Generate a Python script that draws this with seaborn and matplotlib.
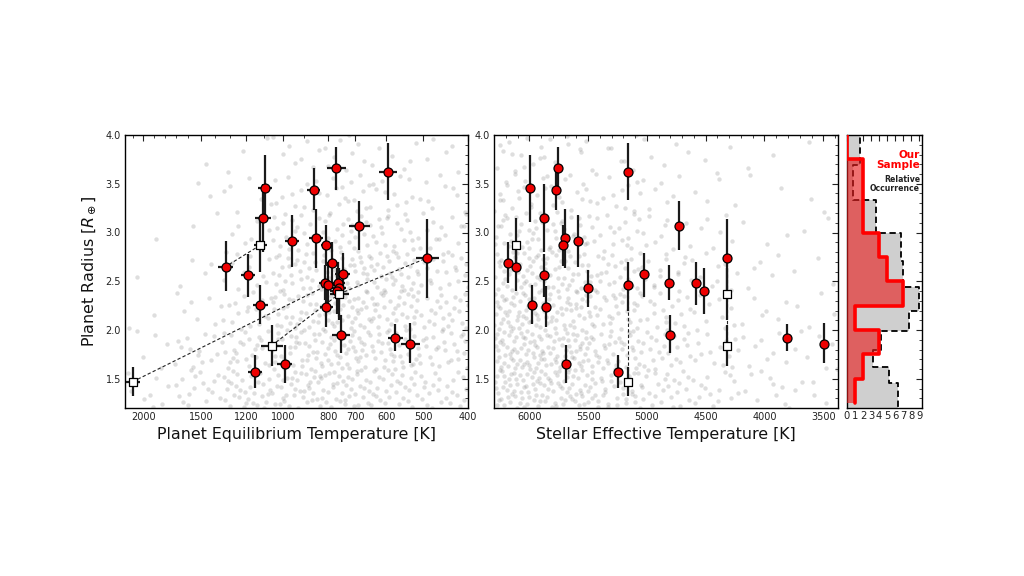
import numpy as np
import pandas as pd
import matplotlib
matplotlib.use("Agg")
import matplotlib.pyplot as plt
from matplotlib.ticker import (MultipleLocator, FixedLocator, FixedFormatter,
                               NullFormatter, FormatStrFormatter)
import seaborn as sns

# ---------------- data ----------------
# sample planets (red circles)
red_teq = [1330, 1189, 1122, 1152, 993, 1093, 1107, 957, 860, 850, 808, 784, 811,
           802, 807, 763, 758, 766, 745, 752, 770, 596, 686, 489, 574, 533]
red_teq_err = [50, 41, 42, 40, 36, 38, 45, 33, 28, 31, 22, 27, 27,
               27, 27, 27, 27, 27, 27, 33, 36, 26, 36, 28, 21, 25]
red_teff = [6111, 5872, 5977, 5244, 5688, 5994, 5878, 5582, 5776, 5696, 5713, 6179, 4810,
            5159, 5858, 4585, 5500, 4517, 5026, 4804, 5759, 5159, 4727, 4321, 3812, 3497]
red_rad = [2.65, 2.56, 2.26, 1.57, 1.65, 3.46, 3.15, 2.91, 3.44, 2.94, 2.87, 2.69, 2.48,
           2.46, 2.24, 2.48, 2.43, 2.40, 2.57, 1.95, 3.66, 3.62, 3.07, 2.74, 1.92, 1.86]
red_rad_lo = [0.25, 0.22, 0.20, 0.16, 0.19, 0.35, 0.35, 0.26, 0.21, 0.30, 0.21, 0.21, 0.17,
              0.26, 0.21, 0.22, 0.19, 0.24, 0.23, 0.19, 0.22, 0.29, 0.25, 0.41, 0.14, 0.20]
red_rad_hi = [0.26, 0.22, 0.20, 0.17, 0.20, 0.34, 0.35, 0.27, 0.22, 0.30, 0.21, 0.21, 0.19,
              0.24, 0.21, 0.22, 0.19, 0.24, 0.22, 0.20, 0.22, 0.30, 0.25, 0.40, 0.14, 0.21]

# other planets in the same systems (white squares)
sq_teq = [2108, 1120, 1059, 758]
sq_teq_err = [73, 38, 57, 36]
sq_teff = [5159, 6111, 4321, 4321]
sq_rad = [1.47, 2.87, 1.84, 2.37]
sq_rad_err = [0.15, 0.28, 0.21, 0.27]

# dashed links: (square index, 'r' red index or 's' square index)
links = [(0, 'r', 13), (1, 'r', 0), (2, 's', 3), (3, 'r', 23)]

# red histogram bins
red_bins = [1.25, 1.5, 1.75, 2.0, 2.25, 2.5, 2.75, 3.0, 3.25, 3.5, 3.75, 4.0]

# relative occurrence (grey dashed histogram)
occ_edges = [1.10, 1.46, 1.62, 1.79, 1.99, 2.20, 2.44, 2.71, 3.00, 3.33, 3.69, 4.09]
occ_vals = [6.3, 5.2, 3.2, 4.25, 7.75, 9.0, 7.0, 6.75, 3.6, 0.75, 1.65]

# background sample density (counts per cell), rows = radius bins bottom->top
bg_r_edges = [1.2, 1.6, 2.0, 2.4, 2.8, 3.2, 3.6, 4.0]
bg_teq_edges = [2188, 1717, 1348, 1058, 830, 652, 512, 400]
bg_teq_counts = [
    [9, 17, 32, 37, 36, 30, 23],
    [5, 14, 26, 35, 38, 32, 25],
    [2, 7, 17, 32, 37, 34, 25],
    [1, 4, 12, 27, 34, 31, 22],
    [1, 2, 8, 19, 23, 20, 15],
    [0, 2, 6, 12, 15, 12, 9],
    [0, 1, 3, 8, 9, 7, 5],
]
bg_teff_edges = [6300, 5882, 5464, 5046, 4628, 4210, 3793, 3375]
bg_teff_counts = [
    [52, 47, 35, 24, 15, 9, 7],
    [54, 47, 34, 23, 13, 8, 6],
    [48, 40, 28, 18, 10, 6, 4],
    [40, 34, 24, 15, 9, 5, 3],
    [28, 23, 17, 11, 6, 3, 2],
    [18, 15, 11, 7, 4, 2, 2],
    [12, 10, 7, 5, 3, 2, 1],
]


def halton(i, b):
    f, r = 1.0, 0.0
    while i > 0:
        f /= b
        r += f * (i % b)
        i //= b
    return r


def cell_points(xedges, yedges, counts, logx=False, start=1):
    xs, ys = [], []
    k = start
    for ri, row in enumerate(counts):
        for ci, c in enumerate(row):
            x0, x1 = xedges[ci], xedges[ci + 1]
            if logx:
                x0, x1 = np.log10(x0), np.log10(x1)
            y0, y1 = yedges[ri], yedges[ri + 1]
            for _ in range(c):
                u, v = halton(k, 2), halton(k, 3)
                k += 1
                xv = x0 + u * (x1 - x0)
                xs.append(10 ** xv if logx else xv)
                ys.append(y0 + v * (y1 - y0))
    return pd.DataFrame({"x": xs, "y": ys})


bg_left = cell_points(bg_teq_edges, bg_r_edges, bg_teq_counts, logx=True, start=1)
bg_mid = cell_points(bg_teff_edges, bg_r_edges, bg_teff_counts, start=5000)

# ---------------- figure ----------------
sns.set_style("white")
plt.rcParams["font.family"] = ["DejaVu Sans"]
fig = plt.figure(figsize=(10.24, 5.76), dpi=100)
axL = fig.add_axes([125 / 1024, 168 / 576, 343 / 1024, 273 / 576])
axM = fig.add_axes([494 / 1024, 168 / 576, 344 / 1024, 273 / 576])
axH = fig.add_axes([847 / 1024, 168 / 576, 75 / 1024, 273 / 576])

bg_kw = dict(color="#808080", alpha=0.26, s=10, linewidth=0, legend=False, zorder=1)
sns.scatterplot(data=bg_left, x="x", y="y", ax=axL, **bg_kw)
sns.scatterplot(data=bg_mid, x="x", y="y", ax=axM, **bg_kw)

red_df = pd.DataFrame({"teq": red_teq, "teff": red_teff, "r": red_rad})
sq_df = pd.DataFrame({"teq": sq_teq, "teff": sq_teff, "r": sq_rad})


def endpoint(kind, j, key):
    if kind == 'r':
        return (red_teq[j] if key == 'teq' else red_teff[j]), red_rad[j]
    return (sq_teq[j] if key == 'teq' else sq_teff[j]), sq_rad[j]


for ax, key in [(axL, 'teq'), (axM, 'teff')]:
    for si, kind, j in links:
        x0 = sq_teq[si] if key == 'teq' else sq_teff[si]
        y0 = sq_rad[si]
        x1, y1 = endpoint(kind, j, key)
        ax.plot([x0, x1], [y0, y1], ls=(0, (3, 2)), color="#222222", lw=0.8, zorder=2)

eb_kw = dict(fmt="none", ecolor="#1a1a1a", elinewidth=1.6, capsize=0, zorder=3)
axL.errorbar(red_teq, red_rad, yerr=[red_rad_lo, red_rad_hi], xerr=red_teq_err, **eb_kw)
axL.errorbar(sq_teq, sq_rad, yerr=sq_rad_err, xerr=sq_teq_err, **eb_kw)
axM.errorbar(red_teff, red_rad, yerr=[red_rad_lo, red_rad_hi], **eb_kw)
axM.errorbar(sq_teff, sq_rad, yerr=sq_rad_err, **eb_kw)

mk_red = dict(color="#ee0000", edgecolor="black", linewidth=0.9, s=42, marker="o",
              legend=False, zorder=5)
mk_sq = dict(color="white", edgecolor="black", linewidth=0.9, s=40, marker="s",
             legend=False, zorder=5)
sns.scatterplot(data=red_df, x="teq", y="r", ax=axL, **mk_red)
sns.scatterplot(data=sq_df, x="teq", y="r", ax=axL, **mk_sq)
sns.scatterplot(data=red_df, x="teff", y="r", ax=axM, **mk_red)
sns.scatterplot(data=sq_df, x="teff", y="r", ax=axM, **mk_sq)

# ---- histogram panel ----
occ_centers = [0.5 * (occ_edges[i] + occ_edges[i + 1]) for i in range(len(occ_vals))]
sns.histplot(y=occ_centers, weights=occ_vals, bins=occ_edges, element="step", fill=True,
             ax=axH, color="#cfcfcf", alpha=1.0, edgecolor="black", linewidth=1.3,
             linestyle=(0, (3.5, 2)), zorder=2)
all_r = red_rad + sq_rad
sns.histplot(y=all_r, bins=red_bins, element="step", fill=True, ax=axH,
             color="#e81c1c", alpha=0.62, linewidth=0, zorder=3)
sns.histplot(y=all_r, bins=red_bins, element="step", fill=False, ax=axH,
             color="#ff0000", linewidth=2.6, zorder=4)

axH.text(0.975, 0.908, "Our\nSample", transform=axH.transAxes, ha="right", va="center",
         color="#ff0000", fontweight="bold", fontsize=7.5, linespacing=1.0, zorder=6)
axH.text(0.975, 0.82, "Relative\nOccurrence", transform=axH.transAxes, ha="right",
         va="center", color="#222222", fontweight="bold", fontsize=5.6, linespacing=1.0,
         zorder=6)

# ---------------- axes formatting ----------------
for ax in (axL, axM, axH):
    ax.set_ylim(1.2, 4.0)
    ax.yaxis.set_major_locator(MultipleLocator(0.5))
    ax.yaxis.set_minor_locator(MultipleLocator(0.1))
    ax.tick_params(which="both", direction="in", top=True, right=True, color="#222222",
                   labelsize=7, labelcolor="#222222", pad=3)
    ax.tick_params(which="major", length=4, width=0.8)
    ax.tick_params(which="minor", length=2, width=0.6)
    for sp in ax.spines.values():
        sp.set_color("black")
        sp.set_linewidth(1.0)
    ax.set_xlabel("")
    ax.set_ylabel("")

axL.set_xscale("log")
axL.set_xlim(2190, 400)
teq_ticks = [2000, 1500, 1200, 1000, 800, 700, 600, 500, 400]
axL.xaxis.set_major_locator(FixedLocator(teq_ticks))
axL.xaxis.set_major_formatter(FixedFormatter([str(t) for t in teq_ticks]))
axL.xaxis.set_minor_locator(FixedLocator([2100, 1900, 1800, 1700, 1600, 1400, 1300, 1100, 900]))
axL.xaxis.set_minor_formatter(NullFormatter())
axL.yaxis.set_major_formatter(FormatStrFormatter("%.1f"))
axM.yaxis.set_major_formatter(FormatStrFormatter("%.1f"))

axM.set_xlim(6300, 3375)
axM.xaxis.set_major_locator(MultipleLocator(500))
axM.xaxis.set_minor_locator(MultipleLocator(100))

axH.set_xlim(0, 9.35)
axH.xaxis.set_major_locator(FixedLocator(list(range(10))))
axH.set_yticklabels([])
axH.tick_params(axis="x", pad=2, labelsize=7.2)

axL.set_xlabel("Planet Equilibrium Temperature [K]", fontsize=11.4, labelpad=3.5, color="#111111")
axM.set_xlabel("Stellar Effective Temperature [K]", fontsize=11.4, labelpad=3.5, color="#111111")
axL.set_ylabel(r"Planet Radius [$R_\oplus$]", fontsize=11.4, labelpad=5, color="#111111")

fig.savefig("out.png", dpi=100, facecolor="white")
